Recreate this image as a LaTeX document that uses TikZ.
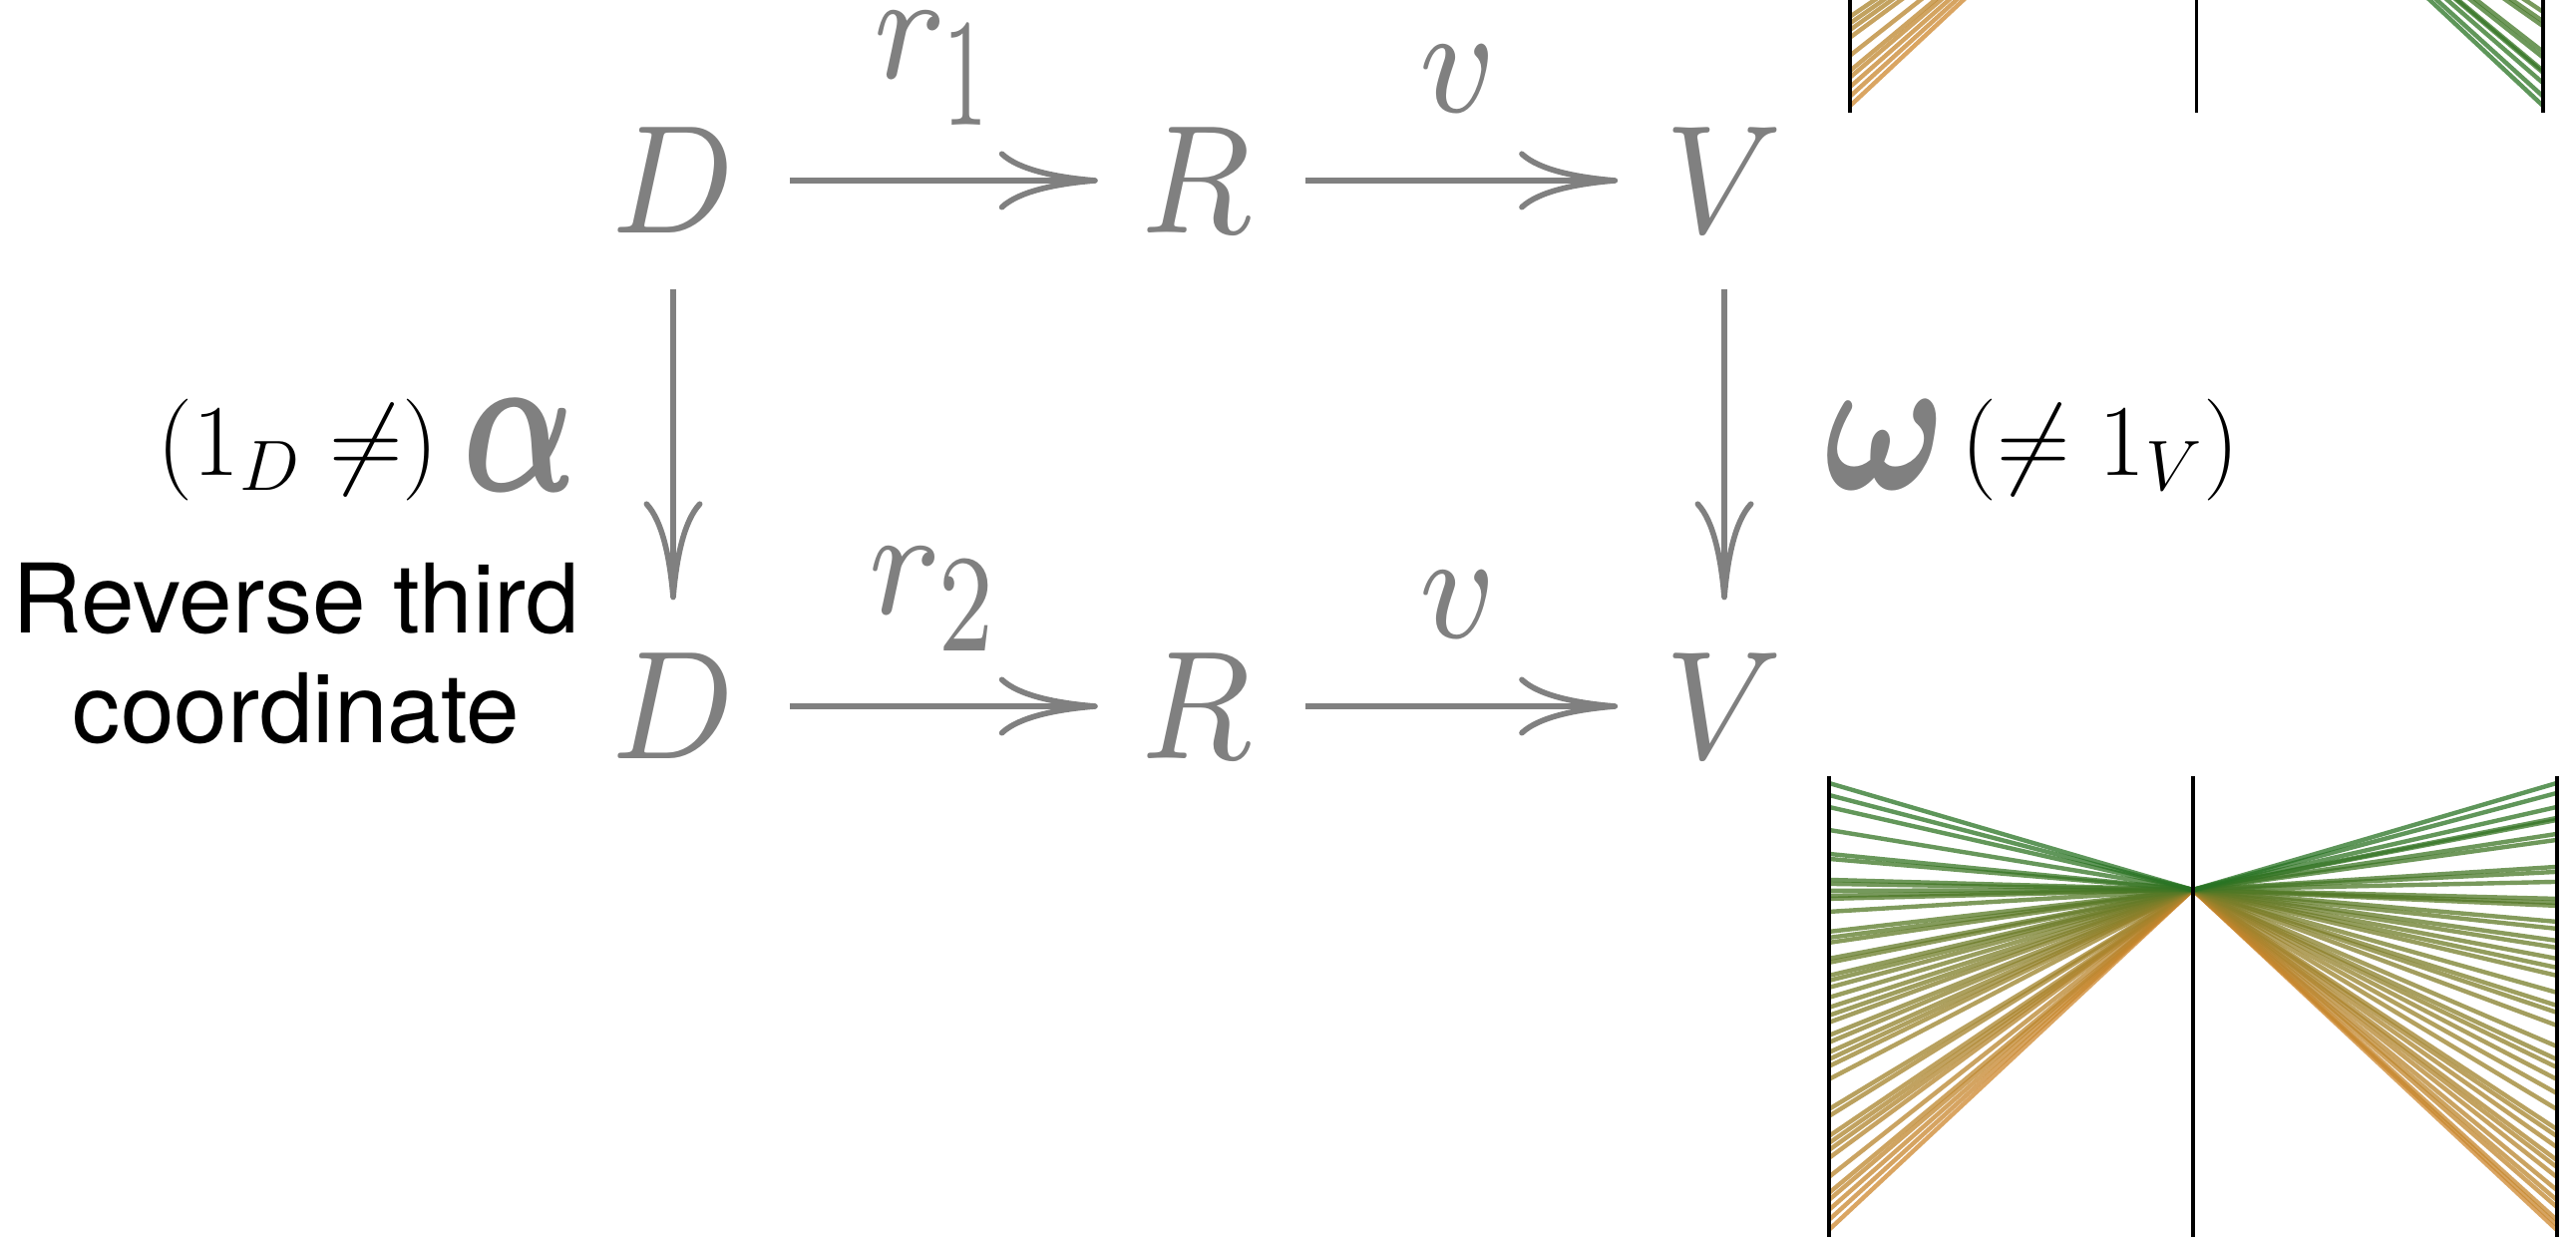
\RequirePackage{fix-cm}
\documentclass[tikz,border=0pt]{standalone}
\usepackage{amsmath,amssymb,bm}
\usepackage{fontspec}
\newfontfamily\labelfont{TeX Gyre Heros}
\usetikzlibrary{arrows.meta}
\definecolor{symgray}{gray}{0.5}
\definecolor{linegreen}{RGB}{40,115,35}
\definecolor{lineorange}{RGB}{205,135,45}
\newcommand{\gsym}[1]{\scalebox{5.4}[6.29]{$#1$}}
\tikzset{
  sym/.style={text=symgray, inner sep=0pt, font=\fontsize{7}{8}\selectfont},
  note/.style={text=black, inner sep=0pt, font=\fontsize{29}{34}\selectfont},
  revnote/.style={text=black, inner sep=0pt, align=center,
        font=\labelfont\fontsize{27.4}{31.3}\selectfont},
  mapto/.style={draw=symgray, line width=1.6pt,
        -{Computer Modern Rightarrow[length=9.9mm, width=5.9mm]},
        shorten <=5.2mm, shorten >=4mm},
  axisline/.style={line width=1.1pt, black},
  pcline/.style={line width=1.25pt, opacity=0.75},
}
% left/right offsets of the lines, orange first
\def\pcdata{455/455,445/450,435/445,425/432,418/425,402/415,383/402,375/392,368/385,361/372,
341/361,334/354,304/334,291/318,284/304,277/292,267/284,260/271,247/250,240/237,
232/230,222/217,212/200,205/192,200/183,187/172,183/165,167/153,162/146,156/130,
136/127,123/123,120/106,115/96,108/91,104/64,83/58,78/44,54/42,31/31,19/17,7/7}
\begin{document}
\begin{tikzpicture}
  \useasboundingbox (0,0) rectangle (25.83,12.5);

  % the square
  \node[sym] (D1) at (6.75,10.69) {\gsym{D}};
  \node[sym] (R1) at (11.99,10.69) {\gsym{R}};
  \node[sym] (V1) at (17.29,10.69) {\gsym{V}};
  \node[sym] (D2) at (6.75,5.42) {\gsym{D}};
  \node[sym] (R2) at (11.99,5.42) {\gsym{R}};
  \node[sym] (V2) at (17.29,5.42) {\gsym{V}};

  \draw[mapto] (D1) -- (R1)
    node[sym, midway, above=5.3mm, xshift=-0.3mm] {\gsym{r_{\scalebox{0.6}[1]{$\textstyle 1$}}}};
  \draw[mapto, shorten >=4.5mm] (R1) -- (V1) node[sym, midway, above=6.6mm] {\gsym{v}};
  \draw[mapto] (D2) -- (R2)
    node[sym, midway, above=5.3mm, xshift=-0.2mm] {\gsym{r_{\scalebox{0.75}[0.9]{$\textstyle 2$}}}};
  \draw[mapto, shorten >=4.5mm] (R2) -- (V2) node[sym, midway, above=6.6mm] {\gsym{v}};
  \draw[mapto, shorten <=5.5mm, shorten >=5.3mm] (D1) -- (D2);
  \draw[mapto, shorten <=5.5mm, shorten >=5.3mm] (V1) -- (V2);

  \node[sym] (alpha) at (5.21,8.04) {\scalebox{5.53}[8.43]{$\bm{\alpha}$}};
  \node[sym] (omega) at (18.90,8.04) {\scalebox{6.0}[8.14]{$\bm{\omega}$}};
  \node[note] (alphanote) at (2.99,7.99) {$(1_D \neq)$};
  \node[note] (omeganote) at (21.06,7.99) {$(\neq 1_V)$};
  \node[revnote] (revlabel) at (2.97,5.95) {Reverse third\\coordinate};

  % parallel coordinates, cut at the top
  \begin{scope}
    \clip (0,0) rectangle (25.83,12.5);
    \begin{scope}[shift={(18.55,15.77)}, x=0.00952cm, y=-0.00952cm]
      \foreach \l/\r [count=\i from 0] in \pcdata {
        \pgfmathtruncatemacro\c{100-100*\i/41}
        \pgfmathtruncatemacro\rr{462-\r}
        \draw[pcline, draw={lineorange!\c!linegreen}] (0,\l) -- (365,114) -- (730,\rr);
      }
      \foreach \x in {0,365,730}
        \draw[axisline] (\x,0) -- (\x,462);
    \end{scope}
  \end{scope}

  % parallel coordinates after reversing
  \begin{scope}[shift={(18.34,4.72)}, x=0.01cm, y=-0.01cm]
    \foreach \l/\r [count=\i from 0] in \pcdata {
      \pgfmathtruncatemacro\c{100-100*\i/41}
      \draw[pcline, draw={lineorange!\c!linegreen}] (0,\l) -- (365,114) -- (730,\r);
    }
    \foreach \x in {0,365,730}
      \draw[axisline] (\x,0) -- (\x,462);
  \end{scope}
\end{tikzpicture}
\end{document}
